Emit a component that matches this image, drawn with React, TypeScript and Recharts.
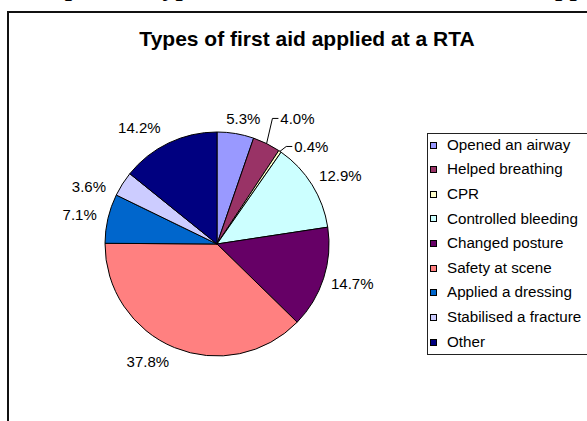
import { PieChart, Pie, Cell, Legend } from 'recharts';

const categories = [
    'Opened an airway',
    'Helped breathing',
    'CPR',
    'Controlled bleeding',
    'Changed posture',
    'Safety at scene',
    'Applied a dressing',
    'Stabilised a fracture',
    'Other'
];

const shares = [5.3, 4.0, 0.4, 12.9, 14.7, 37.8, 7.1, 3.6, 14.2];

const sliceColors = ['#9999FF', '#993366', '#FFFFCC', '#CCFFFF', '#660066', '#FF8080', '#0066CC', '#CCCCFF', '#000080'];

const data = categories.map((name, i) => ({ name, value: shares[i] }));

// labels the author dragged away from Excel's default spot
const labelMoves: Record<string, { dx: number; dy: number; leader?: boolean }> = {
    'Opened an airway': { dx: 3, dy: 3 },
    'Helped breathing': { dx: 18, dy: -9, leader: true },
    'CPR': { dx: 15, dy: 10, leader: true },
    'Changed posture': { dx: -3, dy: 0 },
    'Safety at scene': { dx: -14, dy: -3 },
    'Stabilised a fracture': { dx: -9, dy: 12 },
    'Other': { dx: -15, dy: 1 }
};

const RAD = Math.PI / 180;
const FONT = 'Arial, "Liberation Sans", sans-serif';

function renderLabel(props: any) {
    const { cx, cy, midAngle, outerRadius, value, index } = props;
    const text = `${Number(value).toFixed(1)}%`;
    const w = text.length * 8.5;
    const h = 12;
    const ux = Math.cos(-midAngle * RAD);
    const uy = Math.sin(-midAngle * RAD);
    const r = outerRadius + 12;
    const move = labelMoves[categories[index]] || { dx: 0, dy: 0 };
    const x = cx + r * ux + (ux * w) / 2 + move.dx;
    const y = cy + r * uy + (uy * h) / 2 + move.dy;

    let leader = null;
    if (move.leader) {
        const ex = cx + outerRadius * ux;
        const ey = cy + outerRadius * uy;
        const left = x - w / 2;
        leader = (
            <polyline
                points={`${ex},${ey} ${left - 8},${y} ${left - 2},${y}`}
                fill="none"
                stroke="#000"
                strokeWidth={1}
            />
        );
    }

    return (
        <g key={`lbl-${index}`}>
            {leader}
            <text x={x} y={y} textAnchor="middle" dominantBaseline="central" fontSize={15} fontFamily={FONT} fill="#000">
                {text}
            </text>
        </g>
    );
}

function renderLegend() {
    return (
        <div style={{ marginTop: -1.3 }}>
            {categories.map((name, i) => (
                <div key={name} style={{ height: 24.63, lineHeight: '24.63px', display: 'flex', alignItems: 'center', whiteSpace: 'nowrap' }}>
                    <span style={{ width: 5, height: 5, border: '1px solid #000', background: sliceColors[i], marginLeft: 2, marginRight: 10, flex: 'none' }} />
                    <span style={{ fontSize: 15.2, fontFamily: FONT, color: '#000' }}>{name}</span>
                </div>
            ))}
        </div>
    );
}

export default function App() {
    const serif = '"Liberation Serif", "Times New Roman", serif';
    return (
        <div style={{ position: 'fixed', left: 0, top: 0, width: 587, height: 421, overflow: 'hidden', background: '#fff' }}>
            {/* heading of the page above the chart, cut off by the crop */}
            <div style={{ position: 'absolute', left: 0, top: -25, width: 587, height: 34, fontFamily: serif, fontWeight: 'bold', fontSize: 26, lineHeight: '26px', whiteSpace: 'nowrap' }}>
                <span style={{ position: 'absolute', left: 20 }}>Graph</span>
                <span style={{ position: 'absolute', left: 147 }}>Types of first aid</span>
                <span style={{ position: 'absolute', left: 542 }}>applied</span>
            </div>

            <div style={{ position: 'absolute', left: 7, top: 11, width: 620, height: 440, borderLeft: '2px solid #111', borderTop: '2px solid #111' }} />

            <div style={{ position: 'absolute', left: 0, top: 28, width: 614, textAlign: 'center', fontFamily: FONT, fontWeight: 'bold', fontSize: 21, lineHeight: '21px', color: '#000' }}>
                Types of first aid applied at a RTA
            </div>

            <div style={{ position: 'absolute', left: 0, top: 0 }}>
                <PieChart width={587} height={421} margin={{ top: 0, right: 0, bottom: 0, left: 0 }}>
                    <Pie
                        data={data}
                        dataKey="value"
                        nameKey="name"
                        cx={217}
                        cy={244}
                        outerRadius={112}
                        startAngle={90}
                        endAngle={-270}
                        stroke="#000"
                        strokeWidth={1}
                        label={renderLabel}
                        labelLine={false}
                        isAnimationActive={false}
                    >
                        {data.map((d, i) => (
                            <Cell key={d.name} fill={sliceColors[i]} />
                        ))}
                    </Pie>
                    <Legend
                        content={renderLegend}
                        wrapperStyle={{ position: 'absolute', left: 427, top: 133, width: 200, height: 222, border: '1px solid #222', background: '#fff', boxSizing: 'border-box' }}
                    />
                </PieChart>
            </div>
        </div>
    );
}
